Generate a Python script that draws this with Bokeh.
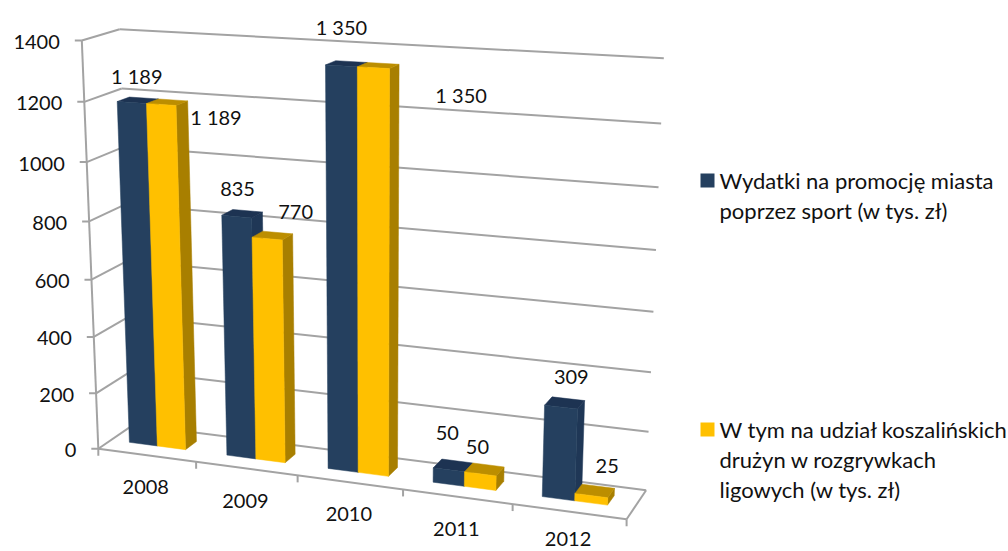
import numpy as np
from bokeh.plotting import figure
from bokeh.models import Range1d
from bokeh.core.properties import value
from bokeh.embed import file_html
from bokeh.resources import INLINE

# ---- data ----
years = ["2008", "2009", "2010", "2011", "2012"]
spend_total = [1189, 835, 1350, 50, 309]
spend_league = [1189, 770, 1350, 50, 25]
total_labels = ["1 189", "835", "1 350", "50", "309"]
league_labels = ["1 189", "770", "1 350", "50", "25"]
value_ticks = [0, 200, 400, 600, 800, 1000, 1200, 1400]
legend_total = ["Wydatki na promocję miasta", "poprzez sport (w tys. zł)"]
legend_league = ["W tym na udział koszalińskich", "drużyn w rozgrywkach", "ligowych (w tys. zł)"]

W, H = 1008, 551
FONT = value("Lato")
BLUE, BLUE_TOP, BLUE_SIDE = "#25405F", "#1D3352", "#1F3756"
GOLD, GOLD_TOP, GOLD_SIDE = "#FFC000", "#BC8E00", "#A87F00"
GRID = "#A3A3A3"

# ---- camera of the 3-D chart: (category, depth, value) -> page pixel ----
calib = [
    ((0, 0, 0), (98, 447)), ((0, 0, 200), (96, 392)), ((0, 0, 1200), (83, 101)), ((0, 0, 1400), (82, 40)),
    ((0, 1, 0), (133, 425)), ((0, 1, 1200), (120, 88)), ((0, 1, 1400), (120, 29)),
    ((5, 1, 0), (645, 489)), ((5, 1, 200), (648, 431)), ((5, 1, 400), (650, 371)), ((5, 1, 600), (655, 311)),
    ((5, 1, 800), (656, 250)), ((5, 1, 1000), (658, 187)), ((5, 1, 1200), (660, 123)), ((5, 1, 1400), (663, 58)),
    ((1, 0, 0), (196, 462)), ((2, 0, 0), (297, 475)), ((3, 0, 0), (402, 490)), ((4, 0, 0), (512, 505)), ((5, 0, 0), (626, 518)),
]
rows = []
for (u, v, z), (px, py) in calib:
    s = z / 1400
    rows.append([u, v, s, 1, 0, 0, 0, 0, -px*u, -px*v, -px*s, -px])
    rows.append([0, 0, 0, 0, u, v, s, 1, -py*u, -py*v, -py*s, -py])
CAM = np.linalg.svd(np.array(rows, float))[2][-1].reshape(3, 4)

def proj(u, v, z):
    q = CAM @ np.array([u, v, z / 1400, 1.0])
    return q[0] / q[2], q[1] / q[2]

p = figure(width=W, height=H, x_range=Range1d(0, W), y_range=Range1d(H, 0),
           toolbar_location=None, output_backend="svg", min_border=0)
p.axis.visible = False
p.grid.visible = False
p.outline_line_color = None
p.background_fill_color = "white"
p.border_fill_color = "white"

def seg(a, b, w=2.0):
    p.line([a[0], b[0]], [a[1], b[1]], line_color=GRID, line_width=w)

def txt(x, y, s, align="center", size="20px"):
    p.text([x], [y], text=[s], text_font=FONT, text_font_size=size, text_color="#111111",
           text_align=align, text_baseline="middle")

# walls and floor
for t in value_ticks:
    a, b, c = proj(0, 0, t), proj(0, 1, t), proj(5, 1, t)
    seg(a, b); seg(b, c)
    seg((a[0] - 7, a[1]), a)
    txt(a[0] - 22, a[1] + 1.5, str(t), "right")
seg(proj(0, 0, 0), proj(0, 0, 1400))
seg(proj(0, 0, 0), proj(5, 0, 0))
seg(proj(5, 0, 0), proj(5, 1, 0))
for i in range(6):
    x, y = proj(i, 0, 0)
    seg((x, y), (x, y + 7))

# bars
U0, BW, V0, V1 = 0.19, 0.29, 0.36, 0.69

def bar(i, k, val, c_front, c_top, c_side):
    a, b = i + U0 + k * BW, i + U0 + (k + 1) * BW
    def face(pts):
        xy = [proj(*q) for q in pts]
        return [q[0] for q in xy], [q[1] for q in xy]
    for pts, col in (
        ([(b, V0, 0), (b, V1, 0), (b, V1, val), (b, V0, val)], c_side),
        ([(a, V0, val), (b, V0, val), (b, V1, val), (a, V1, val)], c_top),
        ([(a, V0, 0), (b, V0, 0), (b, V0, val), (a, V0, val)], c_front),
    ):
        xs, ys = face(pts)
        p.patch(xs, ys, fill_color=col, line_color=col, line_width=0.5)

for i in range(len(years)):
    bar(i, 0, spend_total[i], BLUE, BLUE_TOP, BLUE_SIDE)
    bar(i, 1, spend_league[i], GOLD, GOLD_TOP, GOLD_SIDE)

# value labels, moved from the bar tops like the hand-placed originals
total_nudge = [(-7, -22), (-10, -22), (-10, -35), (-10, -28), (3, -22)]
league_nudge = [(43, 17), (18, -21), (78, 32), (-11, -18), (9, -20)]
for i in range(len(years)):
    x, y = proj(i + U0 + BW / 2, V1, spend_total[i])
    txt(x + total_nudge[i][0], y + total_nudge[i][1], total_labels[i])
    x, y = proj(i + U0 + 1.5 * BW, V1, spend_league[i])
    txt(x + league_nudge[i][0], y + league_nudge[i][1], league_labels[i])

# category labels (the last one kept just inside the page's bottom edge)
for i, y_name in enumerate(years):
    x, y = proj(i + 0.5, 0, 0)
    txt(x - 1, min(y + 32, 538), y_name)

# legend
def legend(x, y0, step, lines, col):
    p.quad(left=[x], right=[x + 14], top=[y0 - 7], bottom=[y0 + 7], fill_color=col, line_color=None)
    for j, s in enumerate(lines):
        txt(x + 19, y0 + j * step, s, "left", "22px")

legend(700, 180, 30, legend_total, BLUE)
legend(700, 429, 30, legend_league, GOLD)

open("out.html", "w").write(file_html(p, INLINE))
